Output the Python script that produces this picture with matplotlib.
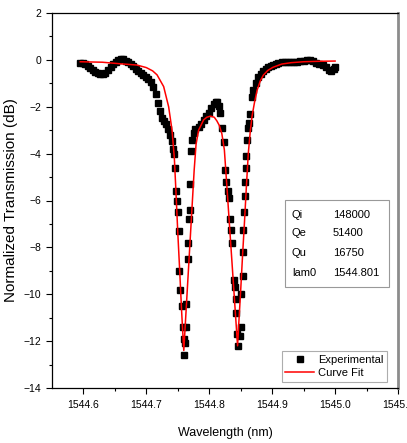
import matplotlib
matplotlib.use("Agg")
import matplotlib.pyplot as plt
from matplotlib.patches import Rectangle

plt.rcParams['font.family'] = ['Liberation Sans', 'DejaVu Sans']

# experimental data (wavelength in nm, transmission in dB)
exp_wl = [1544.595, 1544.599, 1544.603, 1544.607, 1544.611, 1544.615, 1544.619, 1544.623,
          1544.627, 1544.631, 1544.635, 1544.639, 1544.643, 1544.647, 1544.651, 1544.655,
          1544.659, 1544.663, 1544.667, 1544.671, 1544.675, 1544.679, 1544.683, 1544.687,
          1544.691, 1544.695, 1544.699, 1544.703, 1544.707, 1544.711, 1544.715, 1544.719,
          1544.722, 1544.725, 1544.728, 1544.731, 1544.734, 1544.737, 1544.740, 1544.743,
          1544.7445, 1544.746, 1544.747, 1544.7487, 1544.7503, 1544.7513, 1544.7524, 1544.754,
          1544.7567, 1544.7576, 1544.7592, 1544.7603,
          1544.7619, 1544.7625, 1544.763, 1544.7656, 1544.7662, 1544.7683, 1544.769, 1544.7698,
          1544.7705, 1544.772, 1544.7751, 1544.778, 1544.783, 1544.787, 1544.791, 1544.795,
          1544.799, 1544.803, 1544.807, 1544.810, 1544.813, 1544.815, 1544.8175, 1544.820,
          1544.8227, 1544.8254, 1544.827, 1544.829, 1544.8306, 1544.8333, 1544.8345, 1544.836,
          1544.8386, 1544.8413, 1544.8424, 1544.843, 1544.844, 1544.8456,
          1544.8492, 1544.850, 1544.8508, 1544.8529, 1544.8535, 1544.8544, 1544.8556, 1544.856,
          1544.8571, 1544.8578, 1544.8585, 1544.8598, 1544.8615, 1544.8624, 1544.8651, 1544.8678,
          1544.870, 1544.874, 1544.878, 1544.882, 1544.886, 1544.890, 1544.894, 1544.898,
          1544.902, 1544.906, 1544.910, 1544.915, 1544.920, 1544.925, 1544.930, 1544.935,
          1544.940, 1544.945, 1544.950, 1544.955, 1544.960, 1544.965, 1544.970, 1544.975,
          1544.980, 1544.985, 1544.990, 1544.994, 1544.998, 1545.000]
exp_db = [-0.15, -0.12, -0.18, -0.26, -0.35, -0.45, -0.53, -0.58,
          -0.60, -0.59, -0.54, -0.45, -0.32, -0.17, -0.07, -0.01,
          0.02, 0.02, -0.03, -0.08, -0.16, -0.27, -0.37, -0.47,
          -0.57, -0.65, -0.72, -0.80, -0.95, -1.15, -1.45, -1.85,
          -2.20, -2.47, -2.60, -2.75, -2.95, -3.20, -3.45, -3.80,
          -4.00, -4.60, -5.60, -6.00, -6.50, -7.30, -9.00, -9.80,
          -10.5, -11.4, -11.9, -12.6,
          -12.1, -11.4, -10.4, -8.50, -7.80, -6.80, -6.40, -5.30,
          -3.90, -3.40, -3.10, -2.95, -2.85, -2.75, -2.56, -2.40,
          -2.25, -2.05, -1.88, -1.78, -1.80, -1.95, -2.25, -2.90,
          -3.50, -4.70, -5.20, -5.60, -5.90, -6.80, -7.25, -7.80,
          -9.40, -9.70, -10.2, -10.8, -11.7, -12.2,
          -11.8, -11.4, -10.0, -9.20, -8.20, -7.25, -6.50, -5.80,
          -5.20, -4.60, -4.10, -3.40, -2.90, -2.70, -2.30, -1.60,
          -1.30, -1.00, -0.75, -0.62, -0.48, -0.38, -0.30, -0.25,
          -0.20, -0.16, -0.13, -0.11, -0.10, -0.09, -0.08, -0.07,
          -0.07, -0.05, -0.03, -0.02, 0.00, -0.05, -0.12, -0.18,
          -0.22, -0.30, -0.45, -0.48, -0.40, -0.32]

# curve fit
fit_wl = [1544.595, 1544.630, 1544.660, 1544.685, 1544.700, 1544.710, 1544.717, 1544.7275,
          1544.7354, 1544.7408, 1544.7445, 1544.747, 1544.750, 1544.753, 1544.756, 1544.758,
          1544.7595, 1544.761, 1544.764, 1544.767, 1544.770, 1544.773, 1544.776, 1544.779,
          1544.783, 1544.791, 1544.796, 1544.802, 1544.808, 1544.812, 1544.816, 1544.820,
          1544.824, 1544.828, 1544.832, 1544.836, 1544.840, 1544.843, 1544.845, 1544.847,
          1544.850, 1544.853, 1544.856, 1544.859, 1544.862, 1544.865, 1544.868, 1544.872,
          1544.876, 1544.881, 1544.886, 1544.893, 1544.901, 1544.915, 1544.930, 1544.950,
          1544.975, 1545.000]
fit_db = [-0.08, -0.10, -0.17, -0.22, -0.33, -0.47, -0.64, -1.14,
          -2.00, -3.00, -4.20, -5.60, -7.40, -9.00, -10.7, -11.7,
          -12.4, -11.7, -10.3, -8.90, -7.50, -6.10, -4.70, -3.60,
          -3.00, -2.56, -2.45, -2.40, -2.45, -2.60, -2.80, -3.15,
          -3.84, -5.40, -7.00, -8.60, -10.2, -11.4, -12.2, -11.2,
          -9.80, -8.30, -6.90, -5.40, -4.00, -3.10, -2.40, -1.80,
          -1.30, -0.90, -0.65, -0.45, -0.32, -0.18, -0.12, -0.08,
          -0.06, -0.05]

fit_params = ["Qi", "Qe", "Qu", "lam0"]
fit_values = ["148000", "51400", "16750", "1544.801"]

fig = plt.figure(figsize=(4.07, 4.43), dpi=100)
ax = fig.add_axes([52/407, 1-388/443, 346/407, 375/443])

ax.plot(exp_wl, exp_db, linestyle='None', marker='s', markersize=5, color='black',
        label='Experimental')
ax.plot(fit_wl, fit_db, color='red', lw=1.1, label='Curve Fit')

ax.set_xlim(1544.55, 1545.1)
ax.set_ylim(-14, 2)
ax.set_xticks([1544.6, 1544.7, 1544.8, 1544.9, 1545.0, 1545.1])
ax.set_xticklabels(['1544.6', '1544.7', '1544.8', '1544.9', '1545.0', '1545.1'])
ax.set_xticks([1544.65, 1544.75, 1544.85, 1544.95, 1545.05], minor=True)
ax.set_yticks(range(-14, 3, 2))
ax.set_yticks(range(-13, 2, 2), minor=True)
ax.tick_params(which='major', direction='out', length=4, width=0.8, labelsize=7.5)
ax.tick_params(axis='x', which='major', pad=5)
ax.tick_params(which='minor', direction='out', length=2.5, width=0.8)

ax.spines['right'].set_color('#8c8c8c')
ax.spines['right'].set_linewidth(2)
for s in ['left', 'bottom', 'top']:
    ax.spines[s].set_linewidth(0.9)

ax.set_xlabel('Wavelength (nm)', fontsize=9, labelpad=12)
ax.set_ylabel('Normalized Transmission (dB)', fontsize=11, labelpad=4)

# parameter box
ax.add_patch(Rectangle((0.673, 0.269), 0.301, 0.232, transform=ax.transAxes,
                       fill=False, edgecolor='#999999', lw=0.8))
rows_y = [0.461, 0.413, 0.360, 0.307]
for i in range(len(fit_params)):
    ax.text(0.693, rows_y[i], fit_params[i], transform=ax.transAxes, fontsize=8, va='center')
    ax.text(0.811, rows_y[i], fit_values[i], transform=ax.transAxes, fontsize=8, va='center')

leg = ax.legend(loc='lower right', bbox_to_anchor=(0.968, 0.016), borderaxespad=0,
                fancybox=False, edgecolor='#999999', fontsize=8, handlelength=2.6,
                handletextpad=0.3, borderpad=0.35, labelspacing=0.25, markerscale=0.9)
leg.get_frame().set_linewidth(0.8)

fig.savefig('out.png', dpi=100)
